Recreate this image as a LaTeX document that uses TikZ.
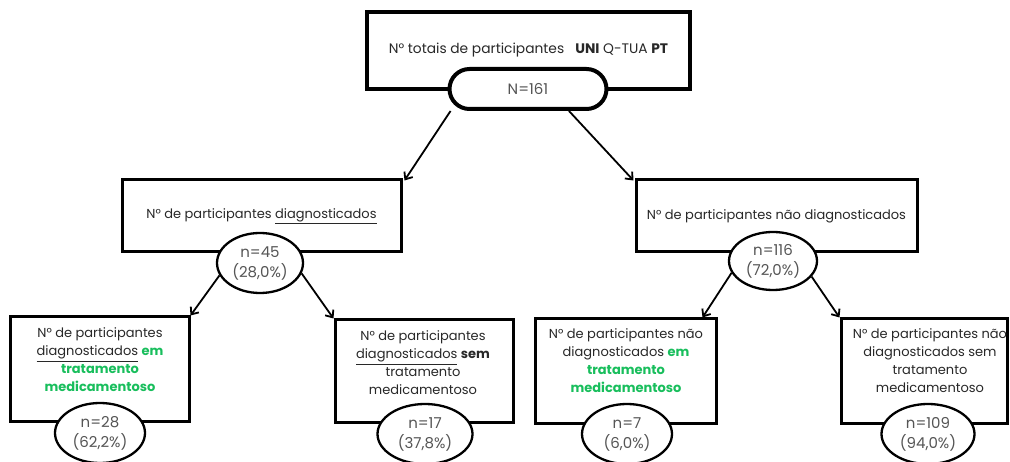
\documentclass[tikz,border=0pt]{standalone}
\usepackage{fontspec}
\setmainfont{Poppins}
\usetikzlibrary{arrows.meta}
\usetikzlibrary{shapes.geometric}
\definecolor{medgreen}{RGB}{24,190,92}
\definecolor{txtgray}{RGB}{40,40,40}
\definecolor{numgray}{RGB}{85,85,85}
\newcommand{\trat}[1]{\textcolor{medgreen}{\textbf{#1}}}

\begin{document}
\begin{tikzpicture}[x=1pt,y=-1pt]
  \tikzset{
    box/.style={draw=black,fill=white,line width=3pt,inner sep=0pt,text=txtgray,
      font=\fontsize{13}{18}\selectfont},
    txt/.style={align=center,text=txtgray,inner sep=0pt,font=\fontsize{13}{18}\selectfont},
    count/.style={ellipse,draw=black,fill=white,line width=2.3pt,inner sep=0pt,
      text=numgray,align=center,font=\fontsize{15}{20}\selectfont},
    arr/.style={-{Straight Barb[length=6pt,width=10pt]},line width=1.8pt},
  }
  \useasboundingbox (0,0) rectangle (1010,462);
  %TOTAL
  \node[box,line width=4pt,minimum width=323pt,minimum height=77pt,
    font=\fontsize{13.8}{18}\selectfont] (tot) at (528.5,50.5)
    {N° totais de participantes\ \ \ \textbf{UNI} Q-TUA \textbf{PT}};
  \node[draw=black,fill=white,line width=4pt,rounded corners=20pt,minimum width=157pt,
    minimum height=40pt,text=numgray,font=\fontsize{15}{20}\selectfont] (n161) at (528,89) {N=161};
  %DIAGNOSTICADOS
  \node[box,minimum width=279pt,minimum height=72pt] (diag) at (261.5,216)
    {N° de participantes \underline{diagnosticados}};
  \node[count,minimum width=86pt,minimum height=60pt] (n45) at (260,263) {n=45\\(28,0\%)};
  %NAO DIAGNOSTICADOS
  \node[box,minimum width=281pt,minimum height=72pt] (ndiag) at (776.5,216)
    {N° de participantes não diagnosticados};
  \node[count,minimum width=88pt,minimum height=58pt] (n116) at (773,261) {n=116\\(72,0\%)};
  %BOTTOM BOXES
  \node[box,minimum width=179pt,minimum height=104pt] (dcom) at (99.5,369) {};
  \node[txt] (tdcom) at (100,360) {N° de participantes\\\underline{diagnosticados} \trat{em}\\\trat{tratamento}\\\trat{medicamentoso}};
  \node[count,minimum width=90pt,minimum height=60pt] (n28) at (100,433) {n=28\\(62,2\%)};
  %
  \node[box,minimum width=178pt,minimum height=102pt] (dsem) at (424,371) {};
  \node[txt] (tdsem) at (423,363) {N° de participantes\\\underline{diagnosticados} \textbf{sem}\\tratamento\\medicamentoso};
  \node[count,minimum width=95pt,minimum height=60pt] (n17) at (425,434) {n=17\\(37,8\%)};
  %
  \node[box,minimum width=181pt,minimum height=104pt] (ncom) at (625.5,371) {};
  \node[txt] (tncom) at (626,361) {N° de participantes não\\diagnosticados \trat{em}\\\trat{tratamento}\\\trat{medicamentoso}};
  \node[count,minimum width=90pt,minimum height=60pt] (n7) at (627,434) {n=7\\(6,0\%)};
  %
  \node[box,minimum width=166pt,minimum height=104pt] (nsem) at (924,371) {};
  \node[txt] (tnsem) at (930,361) {N° de participantes não\\diagnosticados sem\\tratamento\\medicamentoso};
  \node[count,minimum width=93pt,minimum height=60pt] (n109) at (928,434) {n=109\\(94,0\%)};
  %ARROWS
  \draw[arr] ([xshift=3pt]n161.south west) -- ([xshift=2pt,yshift=-2pt]diag.north east);
  \draw[arr] ([xshift=41pt]n161.south) -- ([xshift=-1pt,yshift=-2pt]ndiag.north west);
  \draw[arr] (n45.197) -- (dcom.north east);
  \draw[arr] (n45.346) -- (dsem.north west);
  \draw[arr] (n116.196) -- ([xshift=-15pt]ncom.north east);
  \draw[arr] (n116.338) -- (nsem.north west);
\end{tikzpicture}
\end{document}
